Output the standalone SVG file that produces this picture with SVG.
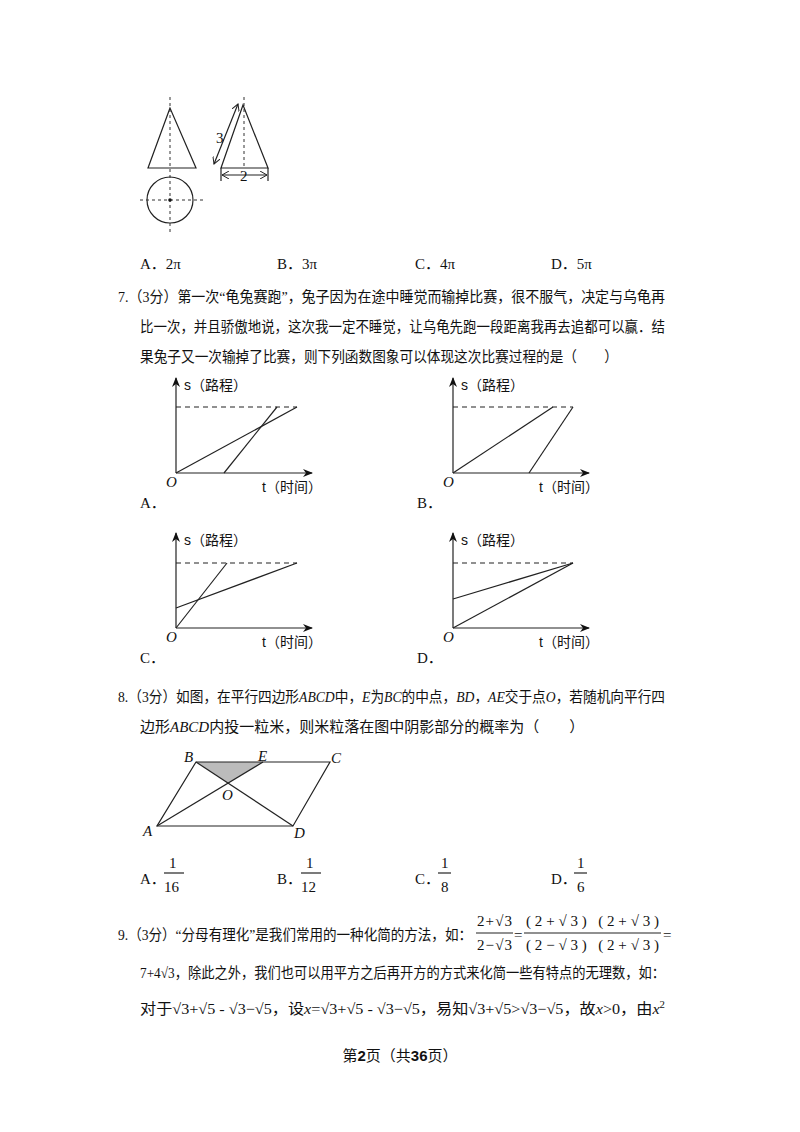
<svg xmlns="http://www.w3.org/2000/svg" width="800" height="1132" viewBox="0 0 800 1132">
<style>
text{font-family:"Liberation Serif","Noto Sans CJK SC",serif;font-size:15px;fill:#111}
.s{font-family:"Liberation Sans","Noto Sans CJK SC",sans-serif;font-size:14px}
.i{font-style:italic}
.ln{stroke:#222;stroke-width:1.2;fill:none}
.d{stroke:#222;stroke-width:1.2;stroke-dasharray:5,4;fill:none}
.dt{stroke:#333;stroke-width:1;stroke-dasharray:3,3;fill:none}
</style>
<defs>
<marker id="ar" markerWidth="10" markerHeight="8" refX="9" refY="4" orient="auto" markerUnits="userSpaceOnUse"><path d="M0,0 L10,4 L0,8 L3,4 Z" fill="#111"/></marker>
<marker id="oa" markerWidth="8" markerHeight="8" refX="7" refY="4" orient="auto-start-reverse" markerUnits="userSpaceOnUse"><path d="M0,0 L7,4 L0,8" fill="none" stroke="#222"/></marker>
</defs>
<g id="cone">
<line class="dt" x1="170" y1="97" x2="170" y2="232"/>
<path class="ln" d="M170,108 L148,168 L196,168 Z"/>
<circle class="ln" cx="170" cy="200" r="23"/>
<line class="dt" x1="140" y1="200" x2="203" y2="200"/>
<circle cx="170" cy="200" r="1.8" fill="#111"/>
<line class="dt" x1="244" y1="97" x2="244" y2="168"/>
<path class="ln" d="M243,105 L221,168 L268,168 Z"/>
<line class="ln" x1="214" y1="164" x2="238" y2="104" marker-start="url(#oa)" marker-end="url(#oa)"/>
<text x="216" y="143" font-size="14">3</text>
<line class="ln" x1="221" y1="168" x2="221" y2="181"/>
<line class="ln" x1="268" y1="168" x2="268" y2="181"/>
<line class="ln" x1="222" y1="175" x2="267" y2="175" marker-start="url(#oa)" marker-end="url(#oa)"/>
<text x="240" y="181">2</text>
</g>
<g id="q6opts">
<text x="140" y="269">A．2π</text><text x="277" y="269">B．3π</text><text x="415" y="269">C．4π</text><text x="551" y="269">D．5π</text>
</g>
<g id="q7text">
<text x="118" y="302" textLength="547" lengthAdjust="spacingAndGlyphs">7.（3分）第一次“龟兔赛跑”，兔子因为在途中睡觉而输掉比赛，很不服气，决定与乌龟再</text>
<text x="140" y="332" textLength="525" lengthAdjust="spacingAndGlyphs">比一次，并且骄傲地说，这次我一定不睡觉，让乌龟先跑一段距离我再去追都可以赢．结</text>
<text x="140" y="362" textLength="478" lengthAdjust="spacingAndGlyphs">果兔子又一次输掉了比赛，则下列函数图象可以体现这次比赛过程的是（　　）</text>
</g>
<g id="graphA">
<line class="ln" x1="176" y1="473" x2="176" y2="378" marker-end="url(#ar)"/>
<line class="ln" x1="176" y1="473" x2="312" y2="473" marker-end="url(#ar)"/>
<line class="d" x1="176" y1="407" x2="297" y2="407"/>
<line class="ln" x1="176" y1="473" x2="297" y2="407"/>
<line class="ln" x1="224" y1="473" x2="277" y2="407"/>
<text class="s" x="184" y="390">s（路程）</text>
<text class="s" x="262" y="492">t（时间）</text>
<text class="i" x="166" y="487">O</text>
<text x="140" y="508">A．</text>
</g>
<g id="graphB">
<line class="ln" x1="453" y1="473" x2="453" y2="378" marker-end="url(#ar)"/>
<line class="ln" x1="453" y1="473" x2="589" y2="473" marker-end="url(#ar)"/>
<line class="d" x1="453" y1="407" x2="573" y2="407"/>
<line class="ln" x1="453" y1="473" x2="553" y2="407"/>
<line class="ln" x1="529" y1="473" x2="573" y2="407"/>
<text class="s" x="461" y="390">s（路程）</text>
<text class="s" x="539" y="492">t（时间）</text>
<text class="i" x="443" y="487">O</text>
<text x="417" y="508">B．</text>
</g>
<g id="graphC">
<line class="ln" x1="176" y1="628" x2="176" y2="533" marker-end="url(#ar)"/>
<line class="ln" x1="176" y1="628" x2="312" y2="628" marker-end="url(#ar)"/>
<line class="d" x1="176" y1="563" x2="297" y2="563"/>
<line class="ln" x1="176" y1="628" x2="227" y2="563"/>
<line class="ln" x1="176" y1="608" x2="297" y2="563"/>
<text class="s" x="184" y="545">s（路程）</text>
<text class="s" x="262" y="647">t（时间）</text>
<text class="i" x="166" y="642">O</text>
<text x="140" y="663">C．</text>
</g>
<g id="graphD">
<line class="ln" x1="453" y1="628" x2="453" y2="533" marker-end="url(#ar)"/>
<line class="ln" x1="453" y1="628" x2="589" y2="628" marker-end="url(#ar)"/>
<line class="d" x1="453" y1="563" x2="573" y2="563"/>
<line class="ln" x1="453" y1="599" x2="573" y2="563"/>
<line class="ln" x1="453" y1="628" x2="573" y2="563"/>
<text class="s" x="461" y="545">s（路程）</text>
<text class="s" x="539" y="647">t（时间）</text>
<text class="i" x="443" y="642">O</text>
<text x="417" y="663">D．</text>
</g>
<g id="q8text">
<text x="118" y="702" textLength="547" lengthAdjust="spacingAndGlyphs">8.（3分）如图，在平行四边形<tspan class="i">ABCD</tspan>中，<tspan class="i">E</tspan>为<tspan class="i">BC</tspan>的中点，<tspan class="i">BD</tspan>，<tspan class="i">AE</tspan>交于点<tspan class="i">O</tspan>，若随机向平行四</text>
<text x="140" y="732">边形<tspan class="i">ABCD</tspan>内投一粒米，则米粒落在图中阴影部分的概率为（　　）</text>
</g>
<g id="parallelogram">
<path d="M196,762 L263,762 L228,783 Z" fill="#bbb"/>
<path class="ln" d="M196,762 L330,762 L293,826 L157,826 Z"/>
<line class="ln" x1="196" y1="762" x2="293" y2="826"/>
<line class="ln" x1="157" y1="826" x2="263" y2="762"/>
<text class="i" x="184" y="762">B</text>
<text class="i" x="258" y="761">E</text>
<text class="i" x="331" y="763">C</text>
<text class="i" x="222" y="800">O</text>
<text class="i" x="143" y="836">A</text>
<text class="i" x="294" y="838">D</text>
</g>
<g id="q8opts">
<text x="140" y="884">A．</text><text x="169" y="868">1</text><line class="ln" x1="164" y1="873" x2="184" y2="873" stroke-width="1"/><text x="164" y="892">16</text>
<text x="277" y="884">B．</text><text x="306" y="868">1</text><line class="ln" x1="301" y1="873" x2="321" y2="873" stroke-width="1"/><text x="301" y="892">12</text>
<text x="415" y="884">C．</text><text x="441" y="868">1</text><line class="ln" x1="438" y1="873" x2="451" y2="873" stroke-width="1"/><text x="441" y="892">8</text>
<text x="551" y="884">D．</text><text x="577" y="868">1</text><line class="ln" x1="574" y1="873" x2="587" y2="873" stroke-width="1"/><text x="577" y="892">6</text>
</g>
<g id="q9text">
<text x="118" y="940" textLength="354" lengthAdjust="spacingAndGlyphs">9.（3分）“分母有理化”是我们常用的一种化简的方法，如：</text>
<text x="477" y="926" textLength="35" lengthAdjust="spacing">2+√3</text><line class="ln" x1="476" y1="933" x2="513" y2="933" stroke-width="1"/><text x="477" y="950" textLength="35" lengthAdjust="spacing">2−√3</text>
<text x="514" y="940">=</text>
<text x="526" y="926" textLength="133" lengthAdjust="spacing">(2+√3) (2+√3)</text><line class="ln" x1="524" y1="933" x2="661" y2="933" stroke-width="1"/><text x="526" y="950" textLength="133" lengthAdjust="spacing">(2−√3) (2+√3)</text>
<text x="663" y="940">=</text>
<text x="140" y="978" textLength="525" lengthAdjust="spacingAndGlyphs">7+4√3，除此之外，我们也可以用平方之后再开方的方式来化简一些有特点的无理数，如：</text>
<text x="140" y="1014" textLength="525" lengthAdjust="spacingAndGlyphs">对于√3+√5 - √3−√5，设<tspan class="i">x</tspan>=√3+√5 - √3−√5，易知√3+√5&gt;√3−√5，故<tspan class="i">x</tspan>&gt;0，由<tspan class="i">x</tspan><tspan font-size="10" dy="-6">2</tspan></text>
</g>
<g id="footer">
<text x="400" y="1061" text-anchor="middle" font-size="13">第<tspan font-weight="bold" font-family="Liberation Sans">2</tspan>页（共<tspan font-weight="bold" font-family="Liberation Sans">36</tspan>页）</text>
</g>
</svg>
